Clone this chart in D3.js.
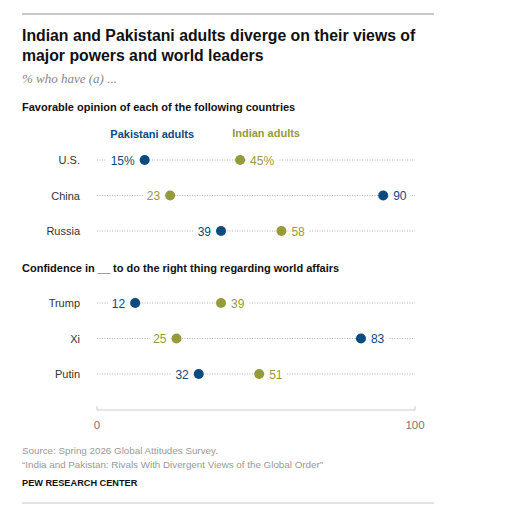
<!DOCTYPE html>
<html><head><meta charset="utf-8">
<script src="https://cdn.jsdelivr.net/npm/d3@7"></script>
<style>body{margin:0;background:#fff}svg{display:block}</style>
</head><body>
<script>
const sections = ["Favorable opinion of each of the following countries", "Confidence in __ to do the right thing regarding world affairs"];
const categories1 = ["U.S.", "China", "Russia"];
const pakistani1 = [15, 90, 39];
const indian1 = [45, 23, 58];
const categories2 = ["Trump", "Xi", "Putin"];
const pakistani2 = [12, 83, 32];
const indian2 = [39, 25, 51];
const seriesNames = ["Pakistani adults", "Indian adults"];
const axisTicks = [0, 100];

const W = 506, H = 508;
const blue = "#0d4a80", green = "#949b3a";
const sans = "'Liberation Sans', Arial, sans-serif";
const svg = d3.select("body").append("svg").attr("width", W).attr("height", H);

svg.append("line").attr("x1",22).attr("x2",434).attr("y1",14).attr("y2",14).attr("stroke","#c8c8c8").attr("stroke-width",2);
svg.append("line").attr("x1",22).attr("x2",434).attr("y1",503).attr("y2",503).attr("stroke","#c8c8c8").attr("stroke-width",1);

const title = svg.append("text").attr("font-family",sans).attr("font-weight","bold").attr("font-size",15.8).attr("fill","#111");
title.append("tspan").attr("x",22).attr("y",41).text("Indian and Pakistani adults diverge on their views of");
title.append("tspan").attr("x",22).attr("y",61).text("major powers and world leaders");

svg.append("text").attr("x",22).attr("y",83).attr("font-family","'Liberation Serif', 'Times New Roman', serif").attr("font-style","italic").attr("font-size",13).attr("fill","#888").text("% who have (a) ...");

const x = d3.scaleLinear().domain([0,100]).range([97,415]);

function section(title, y0, cats, pak, ind, legend, rowY) {
  svg.append("text").attr("x",22).attr("y",y0).attr("font-family",sans).attr("font-weight","bold").attr("font-size",11).attr("fill","#111").text(title);
  if (legend) {
    svg.append("text").attr("x",x(4.2)).attr("y",y0+27).attr("font-family",sans).attr("font-weight","bold").attr("font-size",11).attr("fill",blue).text(seriesNames[0]);
    svg.append("text").attr("x",x(42.5)).attr("y",y0+26).attr("font-family",sans).attr("font-weight","bold").attr("font-size",11).attr("fill",green).text(seriesNames[1]);
  }
  const y = d3.scalePoint().domain(cats).range(rowY);
  cats.forEach((c,i) => {
    const cy = y(c);
    svg.append("text").attr("x",80).attr("y",cy+4).attr("text-anchor","end").attr("font-family",sans).attr("font-size",11).attr("fill","#333").text(c);
    svg.append("line").attr("x1",x(0)).attr("x2",x(100)).attr("y1",cy).attr("y2",cy).attr("stroke","#b5b5b5").attr("stroke-width",1).attr("stroke-dasharray","1,1.5");
    const pts = [{v:pak[i], col:blue}, {v:ind[i], col:green}];
    const lo = pak[i] < ind[i] ? 0 : 1;
    pts.forEach((p,j) => {
      const isLo = j === lo;
      const label = (i===0 && legend) ? p.v + "%" : String(p.v);
      const lx = isLo ? x(p.v) - 10 : x(p.v) + 10;
      const t = svg.append("text").attr("x",lx).attr("y",cy+4.5).attr("text-anchor",isLo?"end":"start").attr("font-family",sans).attr("font-size",12).attr("fill",p.col).text(label);
      const bb = t.node().getBBox();
      svg.insert("rect", () => t.node()).attr("x",bb.x-4).attr("y",cy-4).attr("width",bb.width+8).attr("height",8).attr("fill","#fff");
    });
    pts.forEach(p => {
      svg.append("circle").attr("cx",x(p.v)).attr("cy",cy).attr("r",5).attr("fill",p.col);
    });
  });
}
section(sections[0], 111, categories1, pakistani1, indian1, true, [160, 231]);
section(sections[1], 272, categories2, pakistani2, indian2, false, [303, 374]);

const ax = svg.append("g").attr("transform","translate(0,410)");
ax.append("line").attr("x1",x(0)).attr("x2",x(100)).attr("stroke","#ccc");
axisTicks.forEach(t => {
  ax.append("line").attr("x1",x(t)).attr("x2",x(t)).attr("y1",0).attr("y2",-4).attr("stroke","#ccc");
  ax.append("text").attr("x",x(t)).attr("y",19).attr("text-anchor","middle").attr("font-family",sans).attr("font-size",11.5).attr("fill","#777").text(t);
});

const foot = svg.append("g").attr("font-family",sans).attr("font-size",9.8).attr("fill","#999");
foot.append("text").attr("x",22).attr("y",454).text("Source: Spring 2026 Global Attitudes Survey.");
foot.append("text").attr("x",22).attr("y",468).text("\u201CIndia and Pakistan: Rivals With Divergent Views of the Global Order\u201D");
svg.append("text").attr("x",22).attr("y",486).attr("font-family",sans).attr("font-weight","bold").attr("font-size",9.2).attr("fill","#111").text("PEW RESEARCH CENTER");
</script>
</body></html>
